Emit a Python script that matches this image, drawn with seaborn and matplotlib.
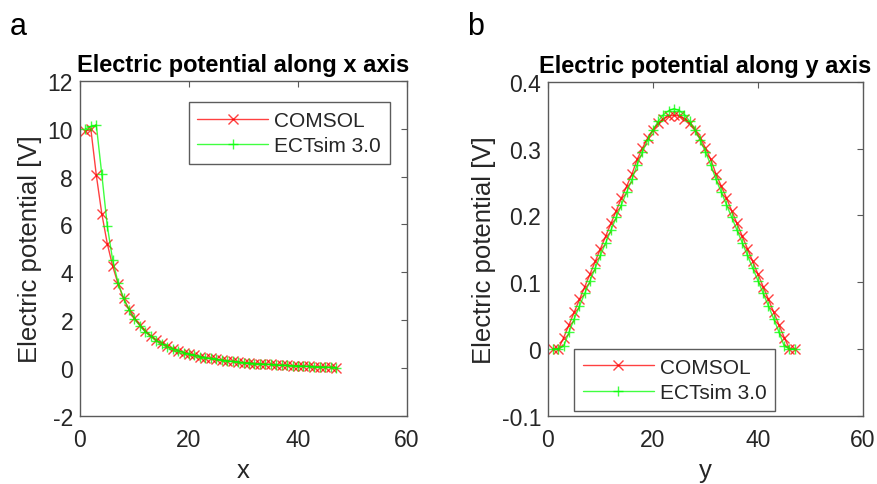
import numpy as np
import pandas as pd
import matplotlib
matplotlib.use("Agg")
import matplotlib.pyplot as plt
from matplotlib.ticker import FuncFormatter
import seaborn as sns

# positions along each axis (grid nodes)
x_nodes = list(range(1, 48))
y_nodes = list(range(1, 48))

# potential along x axis [V]
comsol_x = [9.90, 9.97, 8.05, 6.45, 5.20, 4.25, 3.50, 2.90, 2.45, 2.08,
            1.78, 1.53, 1.33, 1.16, 1.02, 0.90, 0.80, 0.72, 0.64, 0.58,
            0.52, 0.47, 0.43, 0.39, 0.35, 0.32, 0.29, 0.27, 0.24, 0.22,
            0.20, 0.18, 0.17, 0.15, 0.14, 0.12, 0.11, 0.10, 0.09, 0.08,
            0.07, 0.06, 0.05, 0.04, 0.03, 0.02, 0.01]
ectsim_x = [10.00, 10.10, 10.15, 8.10, 5.95, 4.50, 3.55, 2.90, 2.42, 2.05,
            1.75, 1.50, 1.31, 1.14, 1.00, 0.89, 0.79, 0.71, 0.64, 0.58,
            0.52, 0.47, 0.43, 0.39, 0.35, 0.32, 0.29, 0.27, 0.24, 0.22,
            0.20, 0.18, 0.17, 0.15, 0.14, 0.12, 0.11, 0.10, 0.09, 0.08,
            0.07, 0.06, 0.05, 0.04, 0.03, 0.02, 0.01]

# potential along y axis [V]
comsol_y = [0.000, 0.000, 0.017, 0.036, 0.055, 0.074, 0.093, 0.112, 0.131, 0.150,
            0.169, 0.188, 0.207, 0.226, 0.244, 0.262, 0.284, 0.301, 0.316, 0.328,
            0.338, 0.345, 0.349, 0.350, 0.349, 0.345, 0.338, 0.328, 0.316, 0.301,
            0.284, 0.262, 0.244, 0.226, 0.207, 0.188, 0.169, 0.150, 0.131, 0.112,
            0.093, 0.074, 0.055, 0.036, 0.017, 0.000, 0.000]
ectsim_y = [0.000, 0.000, 0.004, 0.025, 0.045, 0.064, 0.083, 0.102, 0.121, 0.140,
            0.159, 0.178, 0.197, 0.216, 0.235, 0.254, 0.276, 0.295, 0.313, 0.328,
            0.341, 0.351, 0.357, 0.360, 0.357, 0.351, 0.341, 0.328, 0.313, 0.295,
            0.276, 0.254, 0.235, 0.216, 0.197, 0.178, 0.159, 0.140, 0.121, 0.102,
            0.083, 0.064, 0.045, 0.025, 0.004, 0.000, 0.000]

series_names = ["COMSOL", "ECTsim 3.0"]
series_colors = ["#ff0000", "#00ff00"]
series_markers = ["x", "+"]

sns.set_style("white")
plt.rcParams["font.family"] = ["Liberation Sans", "DejaVu Sans"]
plt.rcParams["axes.unicode_minus"] = False

GRAY = "#262626"
SPINE = "#5a5a5a"


def draw_panel(ax, pos, curves, title, xlabel, ylim, yticks, legend_loc, legend_anchor, fmt):
    for vals, name, col, mk in zip(curves, series_names, series_colors, series_markers):
        df = pd.DataFrame({"pos": pos, "val": vals})
        sns.lineplot(data=df, x="pos", y="val", ax=ax, color=col, label=name,
                     marker=mk, markersize=7.5 if mk == "+" else 6.5,
                     markeredgecolor=col, markeredgewidth=1.0, linewidth=1.0,
                     alpha=0.75)
    ax.set_xlim(0, 60)
    ax.set_xticks([0, 20, 40, 60])
    ax.set_ylim(*ylim)
    ax.set_yticks(yticks)
    ax.yaxis.set_major_formatter(FuncFormatter(fmt))
    ax.set_title(title, fontsize=17, fontweight="bold", color="black", pad=7)
    ax.set_xlabel(xlabel, fontsize=18.5, color=GRAY, labelpad=5)
    ax.set_ylabel("Electric potential [V]", fontsize=18.5, color=GRAY, labelpad=4)
    ax.tick_params(axis="both", direction="in", top=True, right=True,
                   length=4, width=0.8, colors=SPINE, labelcolor=GRAY, labelsize=16.5)
    ax.tick_params(axis="x", pad=9)
    ax.tick_params(axis="y", pad=5)
    for s in ax.spines.values():
        s.set_color(SPINE)
        s.set_linewidth(1.0)
    leg = ax.legend(loc=legend_loc, bbox_to_anchor=legend_anchor, borderaxespad=0,
                    fontsize=15, frameon=True, fancybox=False, handlelength=3.4,
                    handletextpad=0.3, borderpad=0.42, labelspacing=0.3)
    leg.get_frame().set_edgecolor("#333333")
    leg.get_frame().set_linewidth(1.0)
    for t in leg.get_texts():
        t.set_color(GRAY)


fig = plt.figure(figsize=(8.78, 4.85), dpi=100)
ax_a = fig.add_axes([0.0911, 0.141, 0.3725, 0.690])
ax_b = fig.add_axes([0.6241, 0.141, 0.3588, 0.688])

draw_panel(ax_a, x_nodes, [comsol_x, ectsim_x], "Electric potential along x axis", "x",
           (-2, 12), [-2, 0, 2, 4, 6, 8, 10, 12], "upper left", (0.332, 0.937),
           lambda v, p: f"{v:g}")
draw_panel(ax_b, y_nodes, [comsol_y, ectsim_y], "Electric potential along y axis", "y",
           (-0.1, 0.4), [-0.1, 0, 0.1, 0.2, 0.3, 0.4], "lower left", (0.083, 0.015),
           lambda v, p: f"{round(v, 2):g}")

fig.text(10 / 878, 1 - 35 / 485, "a", fontsize=22, color="black", va="baseline")
fig.text(467 / 878, 1 - 35 / 485, "b", fontsize=22, color="black", va="baseline")

fig.savefig("out.png", dpi=100, facecolor="white")
